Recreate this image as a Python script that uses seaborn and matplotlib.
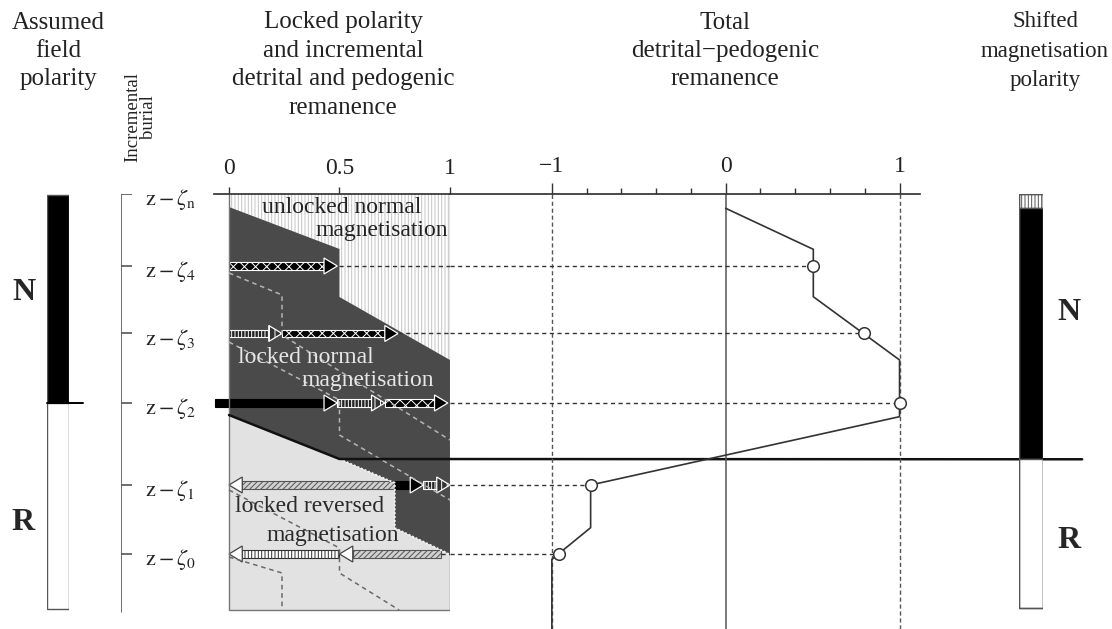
import numpy as np
import matplotlib
matplotlib.use("Agg")
import matplotlib.pyplot as plt
import seaborn as sns

# depth of each burial increment (z - zeta_k), in increment units (0 = surface line)
level_names = ['n', '4', '3', '2', '1', '0']
level_depth = [0.0, 1.036, 2.007, 3.007, 4.187, 5.18]

# total detrital-pedogenic remanence read at each level (4, 3, 2, 1, 0)
circle_names = ['4', '3', '2', '1', '0']
circle_total = [0.504, 0.796, 1.0, -0.777, -0.96]
# where the incremental arrows end in the locked panel at those levels
lock_end = [0.5, 0.765, 1.0, 1.0, 0.96]

# total remanence profile vs depth
profile_x = [0.0, 0.504, 0.504, 1.0, 1.0, -0.777, -0.777, -1.0, -1.0]
profile_d = [0.206, 0.796, 1.478, 2.388, 3.204, 4.187, 4.801, 5.256, 6.26]

# locked normal region (dark) and locked reversed region (light)
dark_x = [0, 0.5, 0.5, 1, 1, 0.977, 0.75, 0.75, 0.5, 0]
dark_d = [0.187, 0.791, 1.482, 2.388, 5.194, 5.151, 4.806, 4.158, 3.813, 3.18]
light_x = [0, 0.5, 0.75, 0.75, 0.977, 1, 1, 0]
light_d = [3.18, 3.813, 4.158, 4.806, 5.151, 5.194, 5.986, 5.986]
unlocked_x = [0, 1, 1, 0.5, 0.5, 0]
unlocked_d = [0.0, 0.0, 2.388, 1.482, 0.791, 0.187]
panel_bottom = 5.986

# lock-in profiles (dashed) started at each arrow level
dash_x = [[0, 0.24, 0.24, 1.0], [0, 0.5, 0.5, 1.0],
          [0, 0.5, 0.5, 0.77], [0, 0.24, 0.24]]
dash_d = [[1.137, 1.453, 2.029, 3.54], [2.13, 2.964, 3.468, 4.403],
          [4.259, 5.094, 5.453, 5.986], [5.223, 5.453, 5.986]]
dash_col = ['#b5b5b5', '#b5b5b5', '#6a6a6a', '#6a6a6a']

# incremental detrital / pedogenic arrows
arrow_start = [0.0, 0.0, 0.24, -0.063, 0.49, 0.705, 0.75, 0.75, 0.88, 0.5, 0.96]
arrow_end = [0.49, 0.24, 0.765, 0.49, 0.705, 0.99, 0.0, 0.88, 1.0, 0.0, 0.5]
arrow_depth = [1.036, 2.007, 2.007, 3.007, 3.007, 3.007, 4.187, 4.187, 4.187, 5.18, 5.18]
arrow_kind = ['zig', 'vert', 'zig', 'solid', 'vert', 'zig', 'diag', 'solid', 'vert', 'vertL', 'diag']

# polarity columns
field_bounds = [0.014, 3.007, 5.971]
field_pol = ['N', 'R']
shift_bounds = [0.0, 0.2, 3.817, 5.957]
shift_pol = ['unlocked', 'N', 'R']
boundary_x = [0.0, 0.5, 3.86]
boundary_d = [3.18, 3.813, 3.817]

sns.set_theme(style='white')
plt.rcParams['font.family'] = ['Liberation Serif', 'DejaVu Serif']
plt.rcParams['mathtext.fontset'] = 'stix'
plt.rcParams['hatch.linewidth'] = 0.7

W, H = 1112, 629
fig = plt.figure(figsize=(W / 100, H / 100), dpi=100)
top = 194
h = (H - top) / H
ylim = (6.259, 0.0)


def add_ax(x0, x1):
    ax = fig.add_axes([x0 / W, 0, (x1 - x0) / W, h])
    ax.set_ylim(*ylim)
    ax.set_facecolor('none')
    for s in ax.spines.values():
        s.set_visible(False)
    ax.set_xticks([])
    ax.set_yticks([])
    return ax


def path_line(ax, xs, ys, **kw):
    # draws the points in the given order, no aggregation
    sns.lineplot(x=xs, y=ys, sort=False, estimator=None, errorbar=None, ax=ax, **kw)
    return ax.lines[-1]


ink = '#333333'

# ---- assumed field polarity column
ax_lb = add_ax(47, 69)
ax_lb.set_xlim(0, 1)
cols = {'N': 'black', 'R': 'white', 'unlocked': 'white'}
for i, p in enumerate(field_pol):
    ax_lb.bar(0.5, field_bounds[i + 1] - field_bounds[i], bottom=field_bounds[i], width=1,
              color=cols[p], edgecolor='#555', lw=1)
ax_lb.plot([0, 1.64], [field_bounds[1]] * 2, color='black', lw=1.4, clip_on=False)
ax_lb.text(-1.05, 1.42, 'N', fontsize=23, fontweight='bold', ha='center', va='center')
ax_lb.text(-1.1, 4.72, 'R', fontsize=23, fontweight='bold', ha='center', va='center')

# ---- incremental burial axis
ax_bu = add_ax(121, 229)
ax_bu.set_xlim(0, 1)
ax_bu.plot([0, 0], [0, panel_bottom + 0.03], color='#555', lw=1.2)
ax_bu.hlines(level_depth, 0, 0.1, color='#555', lw=1.2)
for nm, d in zip(level_names, level_depth):
    ax_bu.text(0.22, d + 0.08, r'$\mathrm{z}-\zeta_{\mathrm{%s}}$' % nm, fontsize=16,
               ha='left', va='center', color='#222')
ax_bu.text(0.18, -1.11, 'Incremental\nburial', rotation=90, fontsize=13.5, ha='center',
           va='center', linespacing=0.9, color='#222', clip_on=False)

# ---- locked polarity panel
ax_lk = add_ax(213.5, 450)
ax_lk.set_xlim(-0.07, 1.0)
ax_lk.fill(unlocked_x, unlocked_d, facecolor='white', edgecolor='#c4c4c4', hatch='|||||', lw=0)
ax_lk.fill(dark_x, dark_d, facecolor='#4a4a4a', edgecolor='none')
ax_lk.fill(light_x, light_d, facecolor='#e2e2e2', edgecolor='none')
ax_lk.plot(light_x[1:6], light_d[1:6], color='#f2f2f2', lw=1.4, ls=(0, (1, 1)))
ax_lk.plot([0, 0, 1, 1], [0, panel_bottom, panel_bottom, 0], color='#777', lw=1)
for xs, ds, c in zip(dash_x, dash_d, dash_col):
    path_line(ax_lk, xs, ds, color=c, lw=1.1, ls=(0, (3, 2.5)))

lvl_circ = [level_depth[level_names.index(n)] for n in circle_names]
for e, d in zip(lock_end, lvl_circ):
    if e < 1:
        ax_lk.plot([e, 1], [d, d], color=ink, lw=1, ls=(0, (3, 2.5)))
path_line(ax_lk, boundary_x, boundary_d, color='#111', lw=1.8).set_clip_on(False)

styles = {
    'zig': dict(body=('black', 'white', 'xxx'), head=('black', 'white', None)),
    'vert': dict(body=('#222', 'white', '|||||'), head=('#333', 'white', '|||')),
    'solid': dict(body=('black', 'black', None), head=('black', 'white', None)),
    'diag': dict(body=('#d0d0d0', '#555', '//////'), head=('white', '#444', None)),
    'vertL': dict(body=('white', '#333', '|||||'), head=('white', '#444', None)),
}
for x0, x1, d, k in zip(arrow_start, arrow_end, arrow_depth, arrow_kind):
    sgn = np.sign(x1 - x0)
    hl, bh, hh = 0.06, 0.055, 0.115
    xb = x1 - sgn * hl
    fc, ec, ht = styles[k]['body']
    ax_lk.fill([x0, xb, xb, x0], [d - bh, d - bh, d + bh, d + bh], facecolor=fc,
               edgecolor=ec, hatch=ht, lw=0.8, clip_on=False)
    fc, ec, ht = styles[k]['head']
    ax_lk.fill([xb, x1, xb], [d - hh, d, d + hh], facecolor=fc, edgecolor=ec,
               hatch=ht, lw=0.9, clip_on=False)

tsz = 17
ax_lk.text(0.51, 0.2, 'unlocked normal', fontsize=tsz, ha='center', va='center', color='#222')
ax_lk.text(0.69, 0.52, 'magnetisation', fontsize=tsz, ha='center', va='center', color='#222')
ax_lk.text(0.35, 2.35, 'locked normal', fontsize=tsz, ha='center', va='center', color='#e6e6e6')
ax_lk.text(0.63, 2.68, 'magnetisation', fontsize=tsz, ha='center', va='center', color='#e6e6e6')
ax_lk.text(0.366, 4.5, 'locked reversed', fontsize=tsz, ha='center', va='center', color='#2a2a2a')
ax_lk.text(0.47, 4.91, 'magnetisation', fontsize=tsz, ha='center', va='center', color='#2a2a2a')

ax_lk.spines['top'].set_visible(True)
ax_lk.spines['top'].set_color(ink)
ax_lk.xaxis.tick_top()
ax_lk.set_xticks([0, 0.5, 1])
ax_lk.set_xticklabels(['0', '0.5', '1'])
ax_lk.tick_params(axis='x', direction='out', length=5, width=1, color=ink, pad=6,
                  labelsize=17, labelcolor='#222', top=True, bottom=False)

# ---- total remanence panel
ax_tt = add_ax(450, 920.4)
ax_tt.set_xlim(-1.586, 1.12)
ax_tt.axvline(0, color='#555', lw=1.1)
for v in (-1, 1):
    ax_tt.axvline(v, color='#555', lw=1, ls=(0, (3, 2)))
for t, d in zip(circle_total, lvl_circ):
    ax_tt.plot([-1.586, t], [d, d], color=ink, lw=1, ls=(0, (3, 2.5)))
path_line(ax_tt, profile_x, profile_d, color='#333', lw=1.2)
sns.scatterplot(x=circle_total, y=lvl_circ, ax=ax_tt, s=70, facecolor='white',
                edgecolor='#333', linewidth=1.1, zorder=5)
ax_tt.spines['top'].set_visible(True)
ax_tt.spines['top'].set_color(ink)
ax_tt.xaxis.tick_top()
ax_tt.set_xticks([-1, 0, 1])
ax_tt.set_xticklabels(['\u22121', '0', '1'])
ax_tt.set_xticks(np.arange(-1, 1.01, 0.2), minor=True)
ax_tt.tick_params(axis='x', which='major', direction='out', length=8, width=1, color=ink,
                  pad=4, labelsize=17, labelcolor='#222', top=True, bottom=False)
ax_tt.tick_params(axis='x', which='minor', direction='out', length=4, width=1, color=ink,
                  top=True, bottom=False)

# ---- shifted magnetisation polarity column
ax_rb = add_ax(1019, 1043)
ax_rb.set_xlim(0, 1)
for i, p in enumerate(shift_pol):
    ax_rb.bar(0.5, shift_bounds[i + 1] - shift_bounds[i], bottom=shift_bounds[i], width=1,
              color=cols[p], edgecolor='#555', lw=1,
              hatch='|||||' if p == 'unlocked' else None)
ax_rb.bar(0.5, shift_bounds[-1] - shift_bounds[0], bottom=shift_bounds[0], width=1,
          fill=False, edgecolor='#555', lw=1)
ax_rb.text(2.1, 1.7, 'N', fontsize=23, fontweight='bold', ha='center', va='center')
ax_rb.text(2.1, 4.98, 'R', fontsize=23, fontweight='bold', ha='center', va='center')

# ---- headings
heads = [
    (58, 51, 'Assumed\nfield\npolarity', 18),
    (343, 65, 'Locked polarity\nand incremental\ndetrital and pedogenic\nremanence', 18),
    (725, 51, 'Total\ndetrital\u2212pedogenic\nremanence', 18),
    (1045, 51, 'Shifted\nmagnetisation\npolarity', 16.5),
]
for x, y, s, fs in heads:
    fig.text(x / W, 1 - y / H, s, ha='center', va='center', fontsize=fs,
             linespacing=1.38 * 18 / fs, color='#222')

fig.savefig('out.png', dpi=100)
